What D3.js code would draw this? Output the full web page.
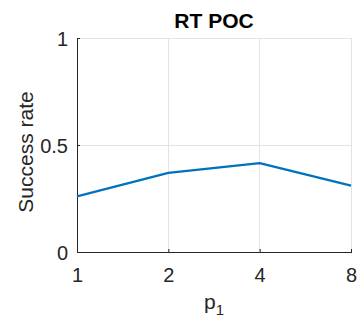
<!DOCTYPE html>
<html>
<head>
<meta charset="utf-8">
<script src="https://cdn.jsdelivr.net/npm/d3@7"></script>
<style>
  html, body { margin: 0; padding: 0; background: #fff; }
  svg { display: block; font-family: "Liberation Sans", Arial, Helvetica, sans-serif; }
</style>
</head>
<body>
<svg id="chart" width="357" height="323"></svg>
<script>
// Success rate of RT POC for each p1 setting
const categories = ["1", "2", "4", "8"];
const successRate = [0.26, 0.37, 0.415, 0.31];
const yTicks = [0, 0.5, 1];
const yTickLabels = ["0", "0.5", "1"];

const svg = d3.select("#chart");
const margin = { left: 77, right: 6, top: 38, bottom: 71 };
const W = 357, H = 323;
const axisColor = "#262626";

const x = d3.scalePoint().domain(categories).range([margin.left, W - margin.right]);
const y = d3.scaleLinear().domain([0, 1]).range([H - margin.bottom, margin.top]);

// grid lines
const grid = svg.append("g");
grid.selectAll("line.vg").data(categories).join("line")
  .attr("x1", d => x(d)).attr("x2", d => x(d))
  .attr("y1", y(0)).attr("y2", y(1))
  .attr("stroke", "#e3e3e3").attr("stroke-width", 1).attr("shape-rendering", "crispEdges");
grid.selectAll("line.hg").data(yTicks).join("line")
  .attr("x1", x.range()[0]).attr("x2", x.range()[1])
  .attr("y1", d => y(d)).attr("y2", d => y(d))
  .attr("stroke", "#e3e3e3").attr("stroke-width", 1).attr("shape-rendering", "crispEdges");

// x axis (ticks point inward)
const xAxis = svg.append("g")
  .attr("transform", `translate(0,${y(0)})`)
  .call(d3.axisBottom(x).tickSizeInner(-3).tickSizeOuter(0).tickPadding(0));
xAxis.select(".domain").attr("stroke", axisColor).attr("shape-rendering", "crispEdges");
xAxis.selectAll(".tick line").attr("stroke", axisColor);
xAxis.selectAll(".tick text")
  .attr("fill", axisColor).attr("font-size", 20).attr("font-family", null)
  .attr("dy", null).attr("y", 30);

// y axis
const yAxis = svg.append("g")
  .attr("transform", `translate(${x.range()[0]},0)`)
  .call(d3.axisLeft(y).tickValues(yTicks).tickFormat((d, i) => yTickLabels[i])
    .tickSizeInner(-3).tickSizeOuter(0).tickPadding(0));
yAxis.select(".domain").attr("stroke", axisColor).attr("shape-rendering", "crispEdges");
yAxis.selectAll(".tick line").attr("stroke", axisColor);
yAxis.selectAll(".tick text")
  .attr("fill", axisColor).attr("font-size", 20).attr("font-family", null)
  .attr("x", -9).attr("dy", "0.35em");

// data line
const line = d3.line()
  .x((d, i) => x(categories[i]))
  .y(d => y(d));
svg.append("path")
  .datum(successRate)
  .attr("d", line)
  .attr("fill", "none")
  .attr("stroke", "#0072BD")
  .attr("stroke-width", 2.2)
  .attr("stroke-linejoin", "round");

// title
svg.append("text")
  .attr("x", (x.range()[0] + x.range()[1]) / 2).attr("y", 28)
  .attr("text-anchor", "middle")
  .attr("font-size", 21).attr("font-weight", "bold").attr("fill", "#000")
  .text("RT POC");

// y label
svg.append("text")
  .attr("transform", `translate(33,${(y(0) + y(1)) / 2 + 7}) rotate(-90)`)
  .attr("text-anchor", "middle")
  .attr("font-size", 21).attr("fill", axisColor)
  .text("Success rate");

// x label with subscript
const xl = svg.append("text")
  .attr("x", (x.range()[0] + x.range()[1]) / 2).attr("y", 309)
  .attr("text-anchor", "middle")
  .attr("font-size", 21).attr("fill", axisColor);
xl.append("tspan").text("p");
xl.append("tspan").attr("font-size", 15).attr("dy", 6).text("1");
</script>
</body>
</html>
